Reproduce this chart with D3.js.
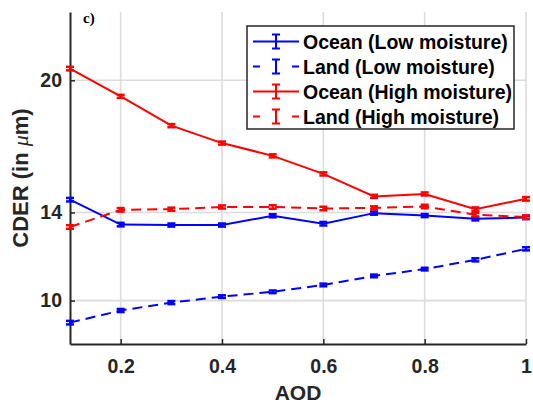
<!DOCTYPE html>
<html>
<head>
<meta charset="utf-8">
<script src="https://cdn.jsdelivr.net/npm/d3@7"></script>
<style>
  body { margin: 0; background: #fff; }
  svg { display: block; }
  text { font-family: "Liberation Sans", Arial, sans-serif; font-weight: bold; }
</style>
</head>
<body>
<div id="chart"></div>
<script>
const aod = [0.1, 0.2, 0.3, 0.4, 0.5, 0.6, 0.7, 0.8, 0.9, 1.0];
const oceanLow = [14.58, 13.45, 13.43, 13.43, 13.85, 13.49, 13.97, 13.86, 13.71, 13.77];
const landLow = [9.0, 9.55, 9.91, 10.18, 10.4, 10.71, 11.12, 11.43, 11.85, 12.35];
const oceanHigh = [20.53, 19.27, 17.94, 17.15, 16.57, 15.75, 14.73, 14.84, 14.15, 14.62];
const landHigh = [13.34, 14.12, 14.15, 14.25, 14.25, 14.18, 14.21, 14.27, 13.9, 13.79];
const errOceanLow = [0.08, 0.08, 0.07, 0.07, 0.07, 0.08, 0.07, 0.07, 0.07, 0.07];
const errLandLow = [0.08, 0.07, 0.07, 0.06, 0.06, 0.06, 0.06, 0.06, 0.07, 0.07];
const errOceanHigh = [0.08, 0.07, 0.07, 0.07, 0.07, 0.07, 0.07, 0.07, 0.08, 0.08];
const errLandHigh = [0.08, 0.08, 0.07, 0.07, 0.08, 0.08, 0.07, 0.08, 0.08, 0.08];
const xTicks = [0.2, 0.4, 0.6, 0.8, 1];
const yTicks = [10, 14, 20];
const seriesNames = ["Ocean (Low moisture)", "Land (Low moisture)", "Ocean (High moisture)", "Land (High moisture)"];

const series = [
  {name: seriesNames[0], values: oceanLow, err: errOceanLow, color: "#0000ff", dash: null},
  {name: seriesNames[1], values: landLow, err: errLandLow, color: "#0000ff", dash: "10,6"},
  {name: seriesNames[2], values: oceanHigh, err: errOceanHigh, color: "#ff0000", dash: null},
  {name: seriesNames[3], values: landHigh, err: errLandHigh, color: "#ff0000", dash: "10,6"}
];

const width = 533, height = 406;
const margin = {top: 12, right: 7, bottom: 62, left: 70};
const chartWidth = width - margin.left - margin.right;
const chartHeight = height - margin.top - margin.bottom;
const axisColor = "#262626";

const svg = d3.select("#chart").append("svg")
  .attr("width", width)
  .attr("height", height);

const chart = svg.append("g")
  .attr("transform", `translate(${margin.left}, ${margin.top})`);

const scaleX = d3.scaleLinear().domain([0.1, 1]).range([0, chartWidth]);
const scaleY = d3.scaleLinear().domain([8.03, 23.1]).range([chartHeight, 0]);

// grid
chart.selectAll(".gx").data(xTicks).join("line")
  .attr("class", "gx")
  .attr("x1", d => scaleX(d)).attr("x2", d => scaleX(d))
  .attr("y1", 0).attr("y2", chartHeight)
  .attr("stroke", "#dcdcdc").attr("stroke-width", 1.6);
chart.selectAll(".gy").data(yTicks).join("line")
  .attr("class", "gy")
  .attr("x1", 0).attr("x2", chartWidth)
  .attr("y1", d => scaleY(d)).attr("y2", d => scaleY(d))
  .attr("stroke", "#dcdcdc").attr("stroke-width", 1.6);

// axes
const axisX = chart.append("g")
  .attr("transform", `translate(0, ${chartHeight})`)
  .call(d3.axisBottom(scaleX).tickValues(xTicks).tickSizeInner(-5).tickSizeOuter(0).tickPadding(15)
    .tickFormat(d => d === 1 ? "1" : d3.format(".1f")(d)));
const axisY = chart.append("g")
  .call(d3.axisLeft(scaleY).tickValues(yTicks).tickSizeInner(-5).tickSizeOuter(0).tickPadding(8));
[axisX, axisY].forEach(a => {
  a.select(".domain").attr("stroke", axisColor).attr("stroke-width", 2);
  a.selectAll(".tick line").attr("stroke", axisColor).attr("stroke-width", 1.5);
  a.selectAll(".tick text").attr("fill", axisColor).style("font-size", "19.5px");
});

// lines
const line = d3.line()
  .x((d, i) => scaleX(aod[i]))
  .y(d => scaleY(d));

series.forEach(s => {
  chart.append("path")
    .datum(s.values)
    .attr("fill", "none")
    .attr("stroke", s.color)
    .attr("stroke-width", 2)
    .attr("stroke-dasharray", s.dash)
    .attr("d", line);
  const eb = chart.append("g");
  s.values.forEach((v, i) => {
    const x = scaleX(aod[i]);
    const y1 = scaleY(v - s.err[i]), y2 = scaleY(v + s.err[i]);
    eb.append("line").attr("x1", x).attr("x2", x).attr("y1", y1).attr("y2", y2)
      .attr("stroke", s.color).attr("stroke-width", 2);
    [y1, y2].forEach(y => eb.append("line")
      .attr("x1", x - 4).attr("x2", x + 4).attr("y1", y).attr("y2", y)
      .attr("stroke", s.color).attr("stroke-width", 2.5));
  });
});

// panel label
svg.append("text")
  .attr("x", 83).attr("y", 23)
  .style("font-family", "'Liberation Serif', 'Times New Roman', serif")
  .style("font-size", "15px")
  .text("c)");

// axis titles
svg.append("text")
  .attr("x", margin.left + chartWidth / 2).attr("y", 400)
  .attr("text-anchor", "middle")
  .attr("fill", axisColor)
  .style("font-size", "21px")
  .text("AOD");

const yTitle = svg.append("text")
  .attr("transform", `translate(28, ${margin.top + chartHeight / 2}) rotate(-90)`)
  .attr("text-anchor", "middle")
  .attr("fill", axisColor)
  .style("font-size", "22px");
yTitle.append("tspan").text("CDER (in ");
yTitle.append("tspan")
  .style("font-family", "'Liberation Serif', 'Times New Roman', serif")
  .style("font-style", "italic").style("font-weight", "normal")
  .text("\u03bc");
yTitle.append("tspan").text("m)");

// legend
const legend = svg.append("g");
legend.append("rect")
  .attr("x", 247).attr("y", 26).attr("width", 267).attr("height", 103)
  .attr("fill", "#fff").attr("stroke", axisColor).attr("stroke-width", 1.5);

series.forEach((s, i) => {
  const y = 41.5 + i * 25;
  const g = legend.append("g");
  if (s.dash) {
    g.append("line").attr("x1", 253).attr("x2", 260).attr("y1", y).attr("y2", y)
      .attr("stroke", s.color).attr("stroke-width", 2);
    g.append("line").attr("x1", 292).attr("x2", 299).attr("y1", y).attr("y2", y)
      .attr("stroke", s.color).attr("stroke-width", 2);
  } else {
    g.append("line").attr("x1", 253).attr("x2", 299).attr("y1", y).attr("y2", y)
      .attr("stroke", s.color).attr("stroke-width", 2);
  }
  g.append("line").attr("x1", 276).attr("x2", 276).attr("y1", y - 7).attr("y2", y + 7)
    .attr("stroke", s.color).attr("stroke-width", 2);
  [y - 7, y + 7].forEach(yy => g.append("line")
    .attr("x1", 272).attr("x2", 280).attr("y1", yy).attr("y2", yy)
    .attr("stroke", s.color).attr("stroke-width", 2));
  g.append("text")
    .attr("x", 303).attr("y", y + 7)
    .style("font-size", "19.5px")
    .attr("fill", "#000")
    .text(s.name);
});
</script>
</body>
</html>
